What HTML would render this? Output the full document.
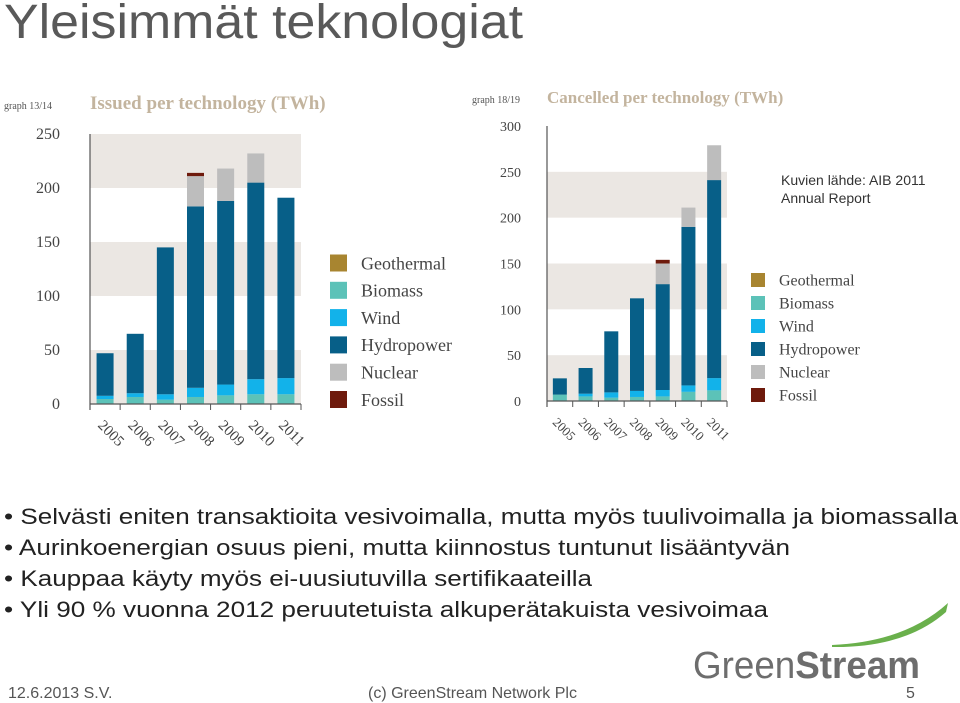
<!DOCTYPE html>
<html><head><meta charset="utf-8"><style>
body{margin:0;background:#fff;}
svg{display:block;font-family:"Liberation Sans",sans-serif;}
</style></head><body>
<svg width="960" height="703" viewBox="0 0 960 703">
<text x="4" y="38" font-size="48" fill="#595959" textLength="519" lengthAdjust="spacingAndGlyphs">Yleisimmät teknologiat</text>
<g id="c1"></g>
<g id="c2"></g>
<text x="781" y="185" font-size="14" fill="#333">Kuvien lähde: AIB 2011</text>
<text x="781" y="203" font-size="14" fill="#333">Annual Report</text>
<g font-size="22" fill="#222">
<text x="4" y="524" textLength="954" lengthAdjust="spacingAndGlyphs">• Selvästi eniten transaktioita vesivoimalla, mutta myös tuulivoimalla ja biomassalla</text>
<text x="4" y="555" textLength="786" lengthAdjust="spacingAndGlyphs">• Aurinkoenergian osuus pieni, mutta kiinnostus tuntunut lisääntyvän</text>
<text x="4" y="586" textLength="588" lengthAdjust="spacingAndGlyphs">• Kauppaa käyty myös ei-uusiutuvilla sertifikaateilla</text>
<text x="4" y="617" textLength="764" lengthAdjust="spacingAndGlyphs">• Yli 90 % vuonna 2012 peruutetuista alkuperätakuista vesivoimaa</text>
</g>
<path d="M832 645 Q905 642 948 603 L946 612 Q905 648 832 647 Z" fill="#6ab04c"/>
<text x="693" y="678" font-size="38" fill="#6d6d6d" textLength="227" lengthAdjust="spacingAndGlyphs">Green<tspan font-weight="bold">Stream</tspan></text>
<text x="8" y="698" font-size="16" fill="#555">12.6.2013 S.V.</text>
<text x="368" y="698" font-size="16" fill="#555">(c) GreenStream Network Plc</text>
<text x="906" y="698" font-size="16" fill="#555">5</text>
</svg>
<script>
const years=["2005","2006","2007","2008","2009","2010","2011"];
const techs=["Biomass","Wind","Hydropower","Nuclear","Fossil"];
const legendItems=["Geothermal","Biomass","Wind","Hydropower","Nuclear","Fossil"];
const issuedBiomass=[4.6,6.5,4,6.5,8,9,9];
const issuedWind=[3,3.5,5,8.5,10,14,15];
const issuedHydro=[39.4,55,136,168,170,182,167];
const issuedNuclear=[0,0,0,28,30,27,0];
const issuedFossil=[0,0,0,3,0,0,0];
const issuedTicks=[0,50,100,150,200,250];
const cancBiomass=[7,5,3.6,4.4,5,10,11.6];
const cancWind=[0,3,5.8,6.6,7,7,13.4];
const cancHydro=[17.7,28,66.6,101,115.5,173,216];
const cancNuclear=[0,0,0,0,22.5,21,38];
const cancFossil=[0,0,0,0,4,0,0];
const cancTicks=[0,50,100,150,200,250,300];
const colors={Geothermal:"#a88530",Biomass:"#5cc2b8",Wind:"#12b2ea",Hydropower:"#075f88",Nuclear:"#bdbdbd",Fossil:"#6e1a0c"};
const NS="http://www.w3.org/2000/svg";
function mk(p,t,a){const e=document.createElementNS(NS,t);for(const k in a)e.setAttribute(k,a[k]);p.appendChild(e);return e;}
function chart(g,o){
  const max=o.ticks[o.ticks.length-1];
  const y=v=>o.y0-(v/max)*(o.y0-o.yTop);
  const slot=(o.x1-o.x0)/years.length;
  const x=i=>o.x0+slot*(i+0.5);
  let t=mk(g,"text",{x:o.titleX,y:o.titleY,"font-size":o.tfs,"font-weight":"bold",fill:"#c3b49e","font-family":"Liberation Serif, serif"});
  
  
  t.textContent=o.title;
  t=mk(g,"text",{x:o.gx,y:o.titleY,"font-size":10,fill:"#555","font-family":"Liberation Serif, serif"});
  
  
  t.textContent=o.gname;
  for(let k=0;k<o.ticks.length-1;k++){
    if(k%2===0){const r=mk(g,"rect",{x:o.x0,y:y(o.ticks[k+1]),width:o.x1-o.x0,height:y(o.ticks[k])-y(o.ticks[k+1]),fill:"#ebe7e3"});
    
    }
  }
  o.ticks.forEach(v=>{const l=mk(g,"text",{x:o.x0-o.lblOff,y:y(v)+5,"text-anchor":"end","font-size":o.fs,fill:"#444","font-family":"Liberation Serif, serif"});
    
    
    l.textContent=v;});
  const series=o.series;
  years.forEach((yr,i)=>{
    let acc=0;
    series.forEach((s,j)=>{const v=s[i];if(v<=0)return;
      const r=mk(g,"rect",{x:x(i)-o.bw/2,y:y(acc+v),width:o.bw,height:y(acc)-y(acc+v),fill:colors[techs[j]]});
      
      
      acc+=v;});
    const tl=mk(g,"text",{x:0,y:0,"font-size":o.fs-1,fill:"#444","font-family":"Liberation Serif, serif",transform:`translate(${x(i)-8},${o.y0+22}) rotate(45)`});
    
    
    tl.textContent=yr;
    const tk=mk(g,"line",{x1:o.x0+slot*i,x2:o.x0+slot*i,y1:o.y0,y2:o.y0+6,stroke:"#555"});
    
    
  });
  let a=mk(g,"line",{x1:o.x0,x2:o.x0,y1:o.yTop,y2:o.y0+6,stroke:"#555","stroke-width":1.2});
  
  
  a=mk(g,"line",{x1:o.x0,x2:o.x1,y1:o.y0,y2:o.y0,stroke:"#555","stroke-width":1.2});
  
  
  mk(g,"line",{x1:o.x1,x2:o.x1,y1:o.y0,y2:o.y0+6,stroke:"#555"});
  legendItems.forEach((n,k)=>{const cy=o.ly+k*o.lstep;
    const r=mk(g,"rect",{x:o.lx,y:cy-o.ls/2,width:o.ls,height:o.ls,fill:colors[n]});
    
    
    const l=mk(g,"text",{x:o.lx+o.ls+14,y:cy+o.lfs*0.35,"font-size":o.lfs,fill:"#444","font-family":"Liberation Serif, serif"});
    
    
    l.textContent=n;});
}
chart(document.getElementById("c1"),{x0:90,x1:301,y0:404,yTop:134,ticks:issuedTicks,bw:17,fs:16,lblOff:30,
 series:[issuedBiomass,issuedWind,issuedHydro,issuedNuclear,issuedFossil],
 title:"Issued per technology (TWh)",gname:"graph 13/14",titleX:90,titleY:109,gx:4,tfs:19,
 lx:330,ly:263,lstep:27.3,ls:17,lfs:18});
chart(document.getElementById("c2"),{x0:547,x1:727,y0:401,yTop:126,ticks:cancTicks,bw:14,fs:14,lblOff:26,
 series:[cancBiomass,cancWind,cancHydro,cancNuclear,cancFossil],
 title:"Cancelled per technology (TWh)",gname:"graph 18/19",titleX:547,titleY:103,gx:472,tfs:17,
 lx:751,ly:280,lstep:23,ls:14,lfs:16});
</script>
</body></html>
